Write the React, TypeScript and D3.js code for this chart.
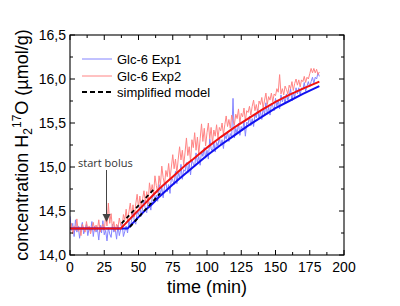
import React from "react";
import * as d3 from "d3";

// ---------- data ----------
const timeMin: number[] = d3.range(0, 183);

const exp1: number[] = [
  14.44, 14.28, 14.36, 14.21, 14.40, 14.26, 14.33, 14.19, 14.30, 14.37,
  14.24, 14.29, 14.35, 14.22, 14.31, 14.27, 14.38, 14.21, 14.33, 14.26,
  14.30, 14.17, 14.34, 14.25, 14.39, 14.23, 14.28, 14.16, 14.31, 14.24,
  14.20, 14.35, 14.26, 14.30, 14.18, 14.34, 14.22, 14.29, 14.36, 14.21,
  14.27, 14.33, 14.25, 14.39, 14.31, 14.40, 14.49, 14.38, 14.35, 14.49,
  14.46, 14.55, 14.44, 14.54, 14.62, 14.52, 14.48, 14.63, 14.59, 14.51,
  14.65, 14.71, 14.60, 14.68, 14.61, 14.80, 14.69, 14.77, 14.65, 14.78,
  14.83, 14.72, 14.80, 14.70, 14.88, 14.85, 14.80, 14.95, 14.81, 14.93,
  14.88, 15.03, 14.86, 14.97, 14.95, 15.05, 14.93, 15.04, 14.91, 15.08,
  15.04, 15.00, 15.16, 15.05, 15.12, 15.02, 15.18, 15.12, 15.22, 15.10,
  15.19, 15.09, 15.32, 15.21, 15.17, 15.28, 15.17, 15.28, 15.24, 15.34,
  15.24, 15.31, 15.21, 15.36, 15.32, 15.40, 15.29, 15.38, 15.34, 15.78,
  15.33, 15.44, 15.38, 15.50, 15.36, 15.46, 15.41, 15.52, 15.35, 15.51,
  15.49, 15.58, 15.47, 15.55, 15.46, 15.60, 15.56, 15.66, 15.55, 15.63,
  15.54, 15.67, 15.60, 15.73, 15.60, 15.68, 15.59, 15.72, 15.69, 15.64,
  15.78, 15.69, 15.76, 15.66, 15.82, 15.74, 15.80, 15.72, 15.83, 15.76,
  15.81, 15.89, 15.75, 15.85, 15.79, 15.90, 15.83, 15.90, 15.82, 15.90,
  15.88, 15.96, 15.86, 15.92, 15.97, 15.91, 15.97, 16.02, 15.95, 16.02,
  16.00, 16.07, 16.03,
];

const exp2: number[] = [
  14.30, 14.36, 14.24, 14.33, 14.28, 14.41, 14.27, 14.32, 14.22, 14.35,
  14.30, 14.26, 14.38, 14.29, 14.33, 14.24, 14.31, 14.37, 14.27, 14.34,
  14.29, 14.40, 14.26, 14.32, 14.35, 14.28, 14.44, 14.33, 14.59, 14.36,
  14.47, 14.30, 14.38, 14.27, 14.35, 14.31, 14.42, 14.34, 14.31, 14.46,
  14.40, 14.52, 14.38, 14.49, 14.59, 14.45, 14.57, 14.43, 14.58, 14.69,
  14.54, 14.67, 14.53, 14.64, 14.73, 14.60, 14.72, 14.58, 14.82, 14.71,
  14.80, 14.69, 14.90, 14.79, 14.71, 14.90, 14.79, 15.01, 14.88, 14.80,
  14.96, 14.89, 15.04, 14.87, 15.00, 15.14, 14.98, 15.09, 14.93, 15.09,
  15.23, 15.08, 15.19, 15.02, 15.17, 15.33, 15.13, 15.23, 15.06, 15.31,
  15.22, 15.39, 15.19, 15.34, 15.15, 15.32, 15.49, 15.29, 15.44, 15.24,
  15.39, 15.50, 15.32, 15.45, 15.27, 15.42, 15.35, 15.48, 15.33, 15.45,
  15.41, 15.50, 15.37, 15.48, 15.58, 15.46, 15.54, 15.44, 15.59, 15.53,
  15.48, 15.60, 15.55, 15.66, 15.50, 15.61, 15.57, 15.67, 15.52, 15.64,
  15.62, 15.69, 15.59, 15.69, 15.76, 15.64, 15.71, 15.62, 15.75, 15.71,
  15.79, 15.67, 15.76, 15.84, 15.71, 15.80, 15.76, 15.84, 15.74, 15.83,
  15.81, 15.89, 15.85, 16.05, 15.83, 15.89, 15.82, 15.92, 15.88, 15.83,
  15.93, 15.89, 15.97, 15.87, 15.95, 16.00, 15.93, 15.99, 15.91, 15.99,
  15.97, 16.03, 15.96, 16.02, 16.00, 16.06, 16.12, 16.07, 16.12, 16.07,
  16.11, 16.05, 16.08,
];

const fitTime1: number[] = [0, 42, 50, 55, 60, 65, 70, 75, 80, 90, 100, 110, 120, 130, 140, 150, 160, 170, 182];
const fitExp1: number[] = [14.30, 14.30, 14.43, 14.51, 14.58, 14.66, 14.73, 14.80, 14.87, 15.00, 15.13, 15.25, 15.36, 15.47, 15.57, 15.67, 15.75, 15.83, 15.92];

const fitTime2: number[] = [0, 37, 45, 50, 55, 60, 65, 70, 75, 80, 85, 90, 100, 110, 120, 130, 140, 150, 160, 170, 182];
const fitExp2: number[] = [14.30, 14.30, 14.43, 14.51, 14.59, 14.67, 14.75, 14.82, 14.89, 14.96, 15.03, 15.09, 15.22, 15.34, 15.45, 15.55, 15.65, 15.74, 15.82, 15.89, 15.97];

const modelTime1: number[] = [43.8, 65.7];
const modelExp1: number[] = [14.32, 14.70];
const modelTime2: number[] = [37.7, 60.8];
const modelExp2: number[] = [14.36, 14.74];

const xTicks: number[] = [0, 25, 50, 75, 100, 125, 150, 175, 200];
const yTicks: number[] = [14.0, 14.5, 15.0, 15.5, 16.0, 16.5];
const legendLabels: string[] = ["Glc-6 Exp1", "Glc-6 Exp2", "simplified model"];

// ---------- chart ----------
const W = 400, H = 306;
const X0 = 70, X1 = 344, Y0 = 255, Y1 = 35;
const FONT = "'Liberation Sans', Arial, sans-serif";

export default function App() {
  const x = d3.scaleLinear().domain([0, 200]).range([X0, X1]);
  const y = d3.scaleLinear().domain([14, 16.5]).range([Y0, Y1]);
  const line = d3.line<[number, number]>().x(d => x(d[0])).y(d => y(d[1]));
  const pts = (t: number[], v: number[]) => t.map((ti, i) => [ti, v[i]] as [number, number]);

  const xMinor = d3.range(12.5, 200, 25);
  const yMinor = d3.range(14.25, 16.5, 0.5);
  const fmt = (d: number) => d.toFixed(1).replace(".", ",");
  const fmtX = (d: number) => String(d);

  const legY = [59, 76, 92];
  const legColors = ["#8484ff", "#ff8484", "#000"];

  return (
    <div>
      <style>{"body{margin:0}"}</style>
      <svg width={W} height={H} style={{ display: "block", background: "#fff" }}>
        <defs>
          <clipPath id="plot">
            <rect x={X0} y={Y1} width={X1 - X0} height={Y0 - Y1} />
          </clipPath>
        </defs>
        <g clipPath="url(#plot)">
          <path d={line(pts(timeMin, exp1)) || ""} fill="none" stroke="#8484ff" strokeWidth={1} />
          <path d={line(pts(timeMin, exp2)) || ""} fill="none" stroke="#ff8484" strokeWidth={1} />
          <path d={line(pts(fitTime1, fitExp1)) || ""} fill="none" stroke="#1010f0" strokeWidth={2} />
          <path d={line(pts(fitTime2, fitExp2)) || ""} fill="none" stroke="#f01010" strokeWidth={2} />
          <path d={line(pts(modelTime1, modelExp1)) || ""} fill="none" stroke="#000" strokeWidth={1.8} strokeDasharray="4,3" />
          <path d={line(pts(modelTime2, modelExp2)) || ""} fill="none" stroke="#000" strokeWidth={1.8} strokeDasharray="4,3" />
        </g>

        {/* frame */}
        <rect x={X0} y={Y1} width={X1 - X0} height={Y0 - Y1} fill="none" stroke="#000" strokeWidth={1.1} />

        {/* x ticks */}
        {xTicks.map(t => (
          <g key={"xt" + t}>
            <line x1={x(t)} x2={x(t)} y1={Y0} y2={Y0 - 5} stroke="#000" />
            <line x1={x(t)} x2={x(t)} y1={Y1} y2={Y1 + 5} stroke="#000" />
            <text x={x(t)} y={272} textAnchor="middle" fontFamily={FONT} fontSize={14}>{fmtX(t)}</text>
          </g>
        ))}
        {xMinor.map(t => (
          <g key={"xm" + t}>
            <line x1={x(t)} x2={x(t)} y1={Y0} y2={Y0 - 3} stroke="#000" />
            <line x1={x(t)} x2={x(t)} y1={Y1} y2={Y1 + 3} stroke="#000" />
          </g>
        ))}
        {/* y ticks */}
        {yTicks.map(t => (
          <g key={"yt" + t}>
            <line x1={X0} x2={X0 + 5} y1={y(t)} y2={y(t)} stroke="#000" />
            <line x1={X1} x2={X1 - 5} y1={y(t)} y2={y(t)} stroke="#000" />
            <text x={66} y={y(t) + 5} textAnchor="end" fontFamily={FONT} fontSize={14}>{fmt(t)}</text>
          </g>
        ))}
        {yMinor.map(t => (
          <g key={"ym" + t}>
            <line x1={X0} x2={X0 + 3} y1={y(t)} y2={y(t)} stroke="#000" />
            <line x1={X1} x2={X1 - 3} y1={y(t)} y2={y(t)} stroke="#000" />
          </g>
        ))}

        {/* axis titles */}
        <text x={207} y={293} textAnchor="middle" fontFamily={FONT} fontSize={18}>time (min)</text>
        <text transform="translate(28,145) rotate(-90)" textAnchor="middle" fontFamily={FONT} fontSize={18}>
          concentration H<tspan fontSize={12} dy={4}>2</tspan>
          <tspan fontSize={12} dy={-11}>17</tspan>
          <tspan dy={7}>O (µmol/g)</tspan>
        </text>

        {/* legend */}
        {legendLabels.map((lab, i) => (
          <g key={lab}>
            <line x1={82} x2={112} y1={legY[i]} y2={legY[i]} stroke={legColors[i]}
              strokeWidth={i === 2 ? 1.8 : 1} strokeDasharray={i === 2 ? "5,3" : undefined} />
            <text x={117} y={legY[i] + 4.5} fontFamily={FONT} fontSize={13}>{lab}</text>
          </g>
        ))}

        {/* annotation */}
        <text x={78} y={167} fontFamily="'Open Sans', sans-serif" fontSize={11} fill="#333">start bolus</text>
        <line x1={106.5} x2={106.5} y1={170} y2={216} stroke="#444" strokeWidth={1} />
        <path d="M102.5,214 L110.5,214 L106.5,222 Z" fill="#444" />
      </svg>
    </div>
  );
}
